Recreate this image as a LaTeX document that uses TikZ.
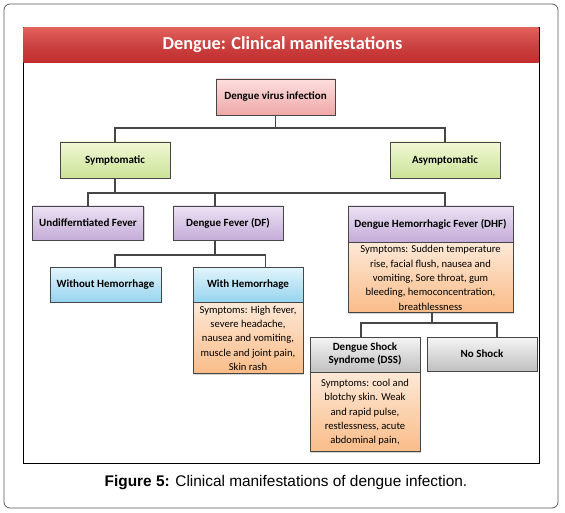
\documentclass[tikz,border=0pt]{standalone}
\usepackage{fontspec}
\setmainfont{Carlito}
\newfontfamily\capfont{Liberation Sans}
\usetikzlibrary{positioning,shadows}
\definecolor{bxline}{RGB}{70,70,70}
\definecolor{bannerred}{RGB}{196,44,44}
\definecolor{bannertop}{RGB}{226,96,90}
\definecolor{pinktop}{RGB}{253,222,222}
\definecolor{pinkbot}{RGB}{240,168,168}
\definecolor{grntop}{RGB}{240,248,214}
\definecolor{grnbot}{RGB}{204,226,150}
\definecolor{purtop}{RGB}{236,226,244}
\definecolor{purbot}{RGB}{196,172,216}
\definecolor{blutop}{RGB}{226,245,252}
\definecolor{blubot}{RGB}{150,212,238}
\definecolor{orgtop}{RGB}{253,232,214}
\definecolor{orgbot}{RGB}{250,188,136}
\definecolor{grytop}{RGB}{245,245,245}
\definecolor{grybot}{RGB}{192,192,192}
\tikzset{
  bx/.style={draw=bxline, line width=0.8pt, align=center, inner sep=2pt,
             font=\fontsize{11}{13}\selectfont\bfseries,
             drop shadow={opacity=0.35, shadow xshift=1.2pt, shadow yshift=-1.2pt}},
  pinkbx/.style={bx, top color=pinktop, bottom color=pinkbot},
  grnbx/.style={bx, top color=grntop, bottom color=grnbot},
  purbx/.style={bx, top color=purtop, bottom color=purbot},
  blubx/.style={bx, top color=blutop, bottom color=blubot},
  grybx/.style={bx, top color=grytop, bottom color=grybot},
  symbody/.style={bx, top color=orgtop, bottom color=orgbot, anchor=north,
             font=\fontsize{10.6}{14.3}\selectfont, inner sep=1pt},
  conn/.style={draw=bxline, line width=1.1pt},
}
\begin{document}
\begin{tikzpicture}[x=1pt, y=-1pt]
  \useasboundingbox (0,0) rectangle (565,513);
  % frames and caption
  \draw[gray!70!black, line width=0.8pt, rounded corners=6pt] (4,4) rectangle (558,508);
  \draw[black, line width=0.8pt] (23,27) rectangle (539,463);
  \shade[top color=bannertop, bottom color=bannerred, middle color=bannerred!90!white]
    (23.4,28) rectangle (538.6,63);
  \node[text=white, font=\fontsize{18.3}{21}\selectfont\bfseries] (title) at (282.5,45)
    {Dengue: Clinical manifestations};
  \node[font=\capfont\fontsize{15.4}{18}\selectfont] (caption) at (286,483)
    {\textbf{Figure 5:} Clinical manifestations of dengue infection.};

  % tree
  \node[pinkbx, minimum width=119pt, minimum height=36pt] (dvi) at (275.5,97) {Dengue virus infection};
  \node[grnbx, minimum width=110pt, minimum height=36pt] (sym) at (115,160) {Symptomatic};
  \node[grnbx, minimum width=110pt, minimum height=36pt] (asy) at (445,160) {Asymptomatic};
  \node[purbx, minimum width=111pt, minimum height=34pt] (udf) at (88,223) {Undifferntiated Fever};
  \node[purbx, minimum width=110pt, minimum height=34pt] (df) at (228,223) {Dengue Fever (DF)};
  \node[purbx, minimum width=165pt, minimum height=36pt] (dhf) at (430.5,224) {Dengue Hemorrhagic Fever (DHF)};
  \node[symbody, minimum width=165pt, minimum height=70pt] (dhfsym) at (dhf.south)
    {Symptoms: Sudden temperature\\ rise, facial flush, nausea and\\ vomiting, Sore throat, gum\\
     bleeding,\ hemoconcentration,\\ breathlessness};
  \node[blubx, minimum width=111pt, minimum height=35pt] (woh) at (105.5,284.5) {Without Hemorrhage};
  \node[blubx, minimum width=110pt, minimum height=35pt] (wh) at (248,284.5) {With Hemorrhage};
  \node[symbody, minimum width=110pt, minimum height=71pt] (whsym) at (wh.south)
    {Symptoms: High fever,\\ severe headache,\\ nausea and vomiting,\\ muscle and joint pain,\\ Skin rash};
  \node[grybx, minimum width=110pt, minimum height=35pt] (dss) at (365,354.5) {Dengue Shock\\ Syndrome (DSS)};
  \node[symbody, minimum width=110pt, minimum height=79pt] (dsssym) at (dss.south)
    {Symptoms: cool and\\ blotchy skin. Weak\\ and rapid pulse,\\ restlessness, acute\\ abdominal pain,};
  \node[grybx, minimum width=110pt, minimum height=34pt] (nos) at (482,354) {No Shock};

  % connectors
  \coordinate (bus1) at (275.5,128);
  \coordinate (bus2) at (115,193);
  \coordinate (bus3) at (215,255);
  \coordinate (bus4) at (432,323);
  \draw[conn] (dvi.south) -- (bus1) -| (sym.north);
  \draw[conn] (bus1) -| (asy.north);
  \draw[conn] (sym.south) -- (bus2) -| (udf.north);
  \draw[conn] (bus2) -| ([xshift=14.5pt]dhf.north);
  \draw[conn] (bus2) -| ([xshift=-13pt]df.north);
  \draw[conn] ([xshift=-13pt]df.south) -- (bus3) -| ([xshift=9.5pt]woh.north);
  \draw[conn] (bus3) -| ([xshift=17.5pt]wh.north);
  \draw[conn] ([xshift=1.5pt]dhfsym.south) -- (bus4) -| ([xshift=-4pt]dss.north);
  \draw[conn] (bus4) -| ([xshift=15pt]nos.north);
\end{tikzpicture}
\end{document}
